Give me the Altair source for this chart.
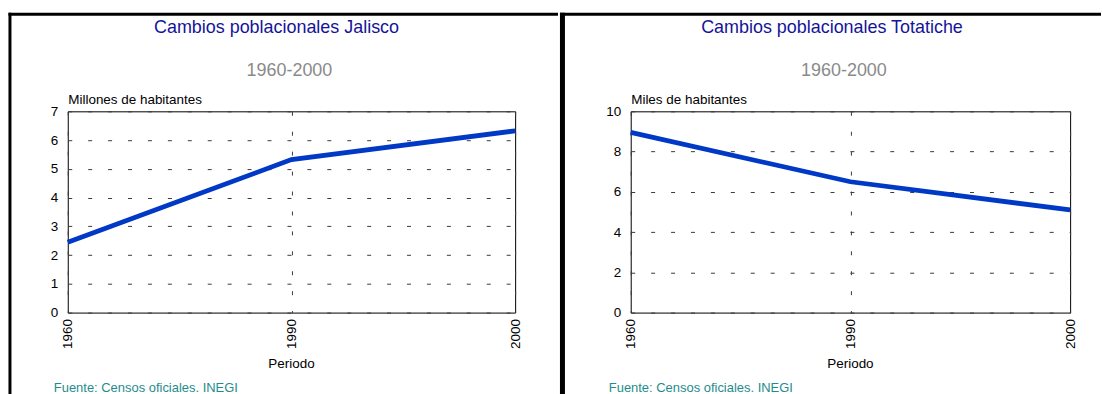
import altair as alt
import pandas as pd

# Census years and population series
periodos = ["1960", "1990", "2000"]
jalisco_millones = [2.45, 5.32, 6.32]
totatiche_miles = [8.95, 6.5, 5.1]

jalisco_ticks = [0, 1, 2, 3, 4, 5, 6, 7]
totatiche_ticks = [0, 2, 4, 6, 8, 10]

FONT = "Liberation Sans"
LINE_BLUE = "#0039c6"
TITLE_BLUE = "#14149a"
SUB_GRAY = "#8a8a8a"
FOOT_TEAL = "#1f8c8c"
GRID = "#3a3a3a"
TEXT_SIZE = 13.5


def one_row():
    return alt.Data(values=[{"k": 0}])


def label(text, x, y, size=TEXT_SIZE, color="black", align="left"):
    return alt.Chart(one_row()).mark_text(
        text=text, font=FONT, fontSize=size, color=color,
        align=align, baseline="alphabetic",
    ).encode(x=alt.value(x), y=alt.value(y))


def block(x, x2, y, y2, opacity=1.0):
    return alt.Chart(one_row()).mark_rect(
        color="black", opacity=opacity, strokeWidth=0
    ).encode(x=alt.value(x), x2=alt.value(x2), y=alt.value(y), y2=alt.value(y2))


def panel(values, ticks, ymax, width, region, titulo, title_cx, sub_cx,
          eje_y, foot_x, borders):
    df = pd.DataFrame({"Periodo": periodos, "valor": values})
    line = alt.Chart(df).mark_line(color=LINE_BLUE, strokeWidth=4.8).encode(
        x=alt.X(
            "Periodo:O",
            scale=alt.Scale(type="point", padding=0),
            axis=alt.Axis(
                title=None, labelAngle=-90, domain=False, ticks=False,
                labelPadding=6, labelFont=FONT, labelFontSize=TEXT_SIZE,
                labelColor="black", grid=True, gridDash=[4, 16],
                gridColor=GRID, gridWidth=1, gridOpacity=1,
            ),
        ),
        y=alt.Y(
            "valor:Q",
            scale=alt.Scale(domain=[0, ymax], nice=False, zero=True),
            axis=alt.Axis(
                values=ticks, title=None, domain=False, ticks=False,
                labelPadding=10, labelFont=FONT, labelFontSize=TEXT_SIZE,
                labelColor="black", grid=True, gridDash=[4, 16],
                gridColor=GRID, gridWidth=1, gridOpacity=1,
            ),
        ),
    )
    x0, x1 = region
    layers = [block(x0, x1, -110, 284, opacity=0)]
    layers += [block(*b) for b in borders]
    layers += [
        line,
        label(titulo, title_cx, -78.5, size=18, color=TITLE_BLUE, align="center"),
        label("1960-2000", sub_cx, -35, size=18, color=SUB_GRAY, align="center"),
        label(eje_y, 0.5, -7),
        label("Periodo", width / 2, 257.5, align="center"),
        label("Fuente: Censos oficiales. INEGI", foot_x, 282, size=13, color=FOOT_TEAL),
    ]
    return alt.layer(*layers).properties(width=width, height=202)


left = panel(
    jalisco_millones, jalisco_ticks, 7, 449, (-67, 492),
    "Cambios poblacionales Jalisco", 209.5, 222.5,
    "Millones de habitantes", -14,
    borders=[
        (-59.5, 492, -99, -96),      # top frame line
        (-59.5, -56.5, -99, 284),    # left frame line
    ],
)

right = panel(
    totatiche_miles, totatiche_ticks, 10, 441, (-71, 472),
    "Cambios poblacionales Totatiche", 202, 214,
    "Miles de habitantes", -22,
    borders=[
        (-71, 472, -99, -96),        # top frame line
        (-71, -66, -99, 284),        # divider between the two panels
    ],
)

chart = (
    alt.hconcat(left, right, spacing=0)
    .properties(padding=0, background="white")
    .configure_view(stroke="black", strokeWidth=1)
)

chart.save("out.html", embed_options={"renderer": "svg", "actions": False})
